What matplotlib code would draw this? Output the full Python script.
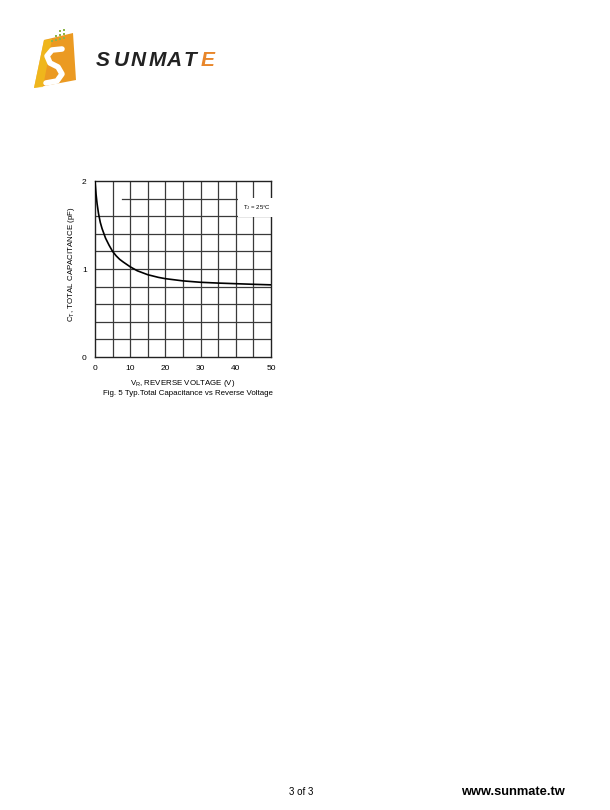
import numpy as np
import matplotlib.pyplot as plt
from matplotlib.patches import Polygon

plt.rcParams['font.family'] = ['Liberation Sans', 'DejaVu Sans']

# typical total capacitance vs reverse voltage
vr = [0, 0.3, 0.6, 1, 1.5, 2, 3, 4, 5, 6, 7, 8, 10, 12, 15, 18, 20, 25, 30, 35, 40, 45, 50]
ct = [2.0, 1.85, 1.74, 1.63, 1.53, 1.46, 1.35, 1.27, 1.20, 1.15, 1.11, 1.08, 1.025,
      0.98, 0.935, 0.905, 0.89, 0.865, 0.849, 0.84, 0.833, 0.826, 0.82]

xticks = [0, 10, 20, 30, 40, 50]
yticks = [0, 1, 2]
xgrid = [5, 10, 15, 20, 25, 30, 35, 40, 45]
ygrid = [0.2, 0.4, 0.6, 0.8, 1.0, 1.2, 1.4, 1.6, 1.8]

W, H = 610, 810
fig = plt.figure(figsize=(W / 100, H / 100), dpi=100)


def fx(px):
    return px / W


def fy(py):
    return 1 - py / H


# ---- logo ----
logo = fig.add_axes([0, 0, 1, 1], zorder=0)
logo.set_xlim(0, W)
logo.set_ylim(H, 0)
logo.axis('off')
logo.add_patch(Polygon([(44, 40), (73, 33), (76, 80), (34, 88)], closed=True,
                       facecolor='#eb9a22', edgecolor='none'))
logo.add_patch(Polygon([(34, 88), (44, 40), (52, 39), (43, 87)], closed=True,
                       facecolor='#f2c21a', edgecolor='none', alpha=0.7))
s_x = [62, 52, 47, 50, 58, 62, 57, 46]
s_y = [49, 50, 56, 63, 67, 74, 81, 83]
logo.plot(s_x, s_y, color='white', lw=4, solid_capstyle='round', solid_joinstyle='round')
dots_x = [52, 56, 60, 64, 56, 60, 64, 60, 64]
dots_y = [41, 40, 39, 38, 36, 35, 34, 31, 30]
logo.scatter(dots_x, dots_y, s=3, color='#8db64a', marker='s', linewidths=0)
letters = ['S', 'U', 'N', 'M', 'A', 'T', 'E']
for i, ch in enumerate(letters):
    logo.text(96 + i * 17.5, 61, ch, fontsize=15, fontweight='bold', style='italic',
              color='#e8862a' if ch == 'E' else '#222222', ha='left', va='center')

# ---- chart ----
ax = fig.add_axes([fx(95), fy(357), fx(176), 176 / H], zorder=2)
ax.set_xlim(0, 50)
ax.set_ylim(0, 2)

for g in xgrid:
    ax.plot([g, g], [0, 2], color='#3a3a3a', lw=0.9, zorder=1)
for g in ygrid:
    x0 = 7.6 if g == 1.8 else 0
    ax.plot([x0, 50], [g, g], color='#3a3a3a', lw=0.9, zorder=1)

ax.plot(vr, ct, color='black', lw=1.2, zorder=3)

ax.text(46, 1.7, r'T$_\mathregular{J}$ = 25°C', fontsize=4.3, ha='center', va='center',
        zorder=4, bbox=dict(boxstyle='square,pad=0.9', facecolor='white', edgecolor='none'))

for sp in ax.spines.values():
    sp.set_color('#222222')
    sp.set_linewidth(1.0)

ax.set_xticks(xticks)
ax.set_yticks(yticks)
ax.tick_params(length=0, labelsize=6, pad=5.5)
ax.tick_params(axis='y', pad=6)
ax.set_xlabel(r'V$_\mathregular{R}$, REVERSE VOLTAGE (V)', fontsize=5.7)
ax.set_ylabel(r'C$_\mathregular{T}$, TOTAL CAPACITANCE (pF)', fontsize=5.7)
ax.xaxis.set_label_coords(0.5, -0.122)
ax.yaxis.set_label_coords(-0.103, 0.525)

fig.text(fx(188), fy(393.5), 'Fig. 5 Typ.Total Capacitance vs Reverse Voltage',
         fontsize=5.7, ha='center', va='center')

# ---- footer ----
fig.text(fx(289), fy(792), '3 of 3', fontsize=7, ha='left', va='center')
fig.text(fx(461), fy(792), 'www.sunmate.tw', fontsize=9.3, fontweight='bold',
         ha='left', va='center')

fig.savefig('out.png', dpi=100, facecolor='white')
